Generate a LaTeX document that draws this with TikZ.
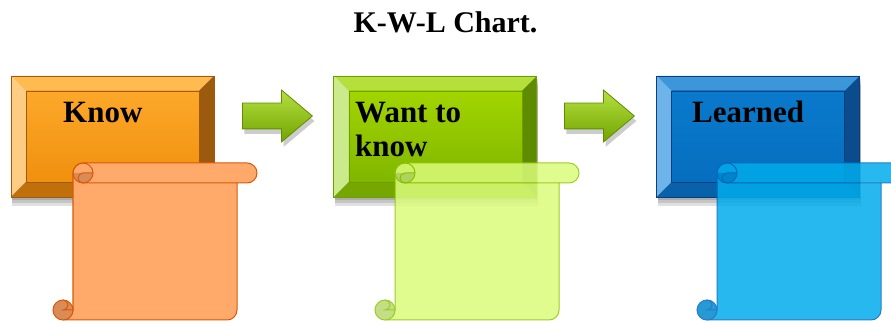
\documentclass[tikz,border=0pt]{standalone}
\usepackage{fontspec}
\setmainfont{Liberation Serif}
\usetikzlibrary{positioning,shapes.arrows,shadows}
\definecolor{KnowTop}{HTML}{FFBA50}
\definecolor{KnowLeft}{HTML}{FFCC84}
\definecolor{KnowRight}{HTML}{9C5A0E}
\definecolor{KnowBottom}{HTML}{C0700A}
\definecolor{KnowFaceTop}{HTML}{FDA82A}
\definecolor{KnowFaceBot}{HTML}{F0900E}
\definecolor{KnowRule}{HTML}{A05A10}
\definecolor{WantTop}{HTML}{B5E03C}
\definecolor{WantLeft}{HTML}{CBEA8C}
\definecolor{WantRight}{HTML}{5E8C00}
\definecolor{WantBottom}{HTML}{76A600}
\definecolor{WantFaceTop}{HTML}{A2D500}
\definecolor{WantFaceBot}{HTML}{80B600}
\definecolor{WantRule}{HTML}{6E9E00}
\definecolor{LearnTop}{HTML}{3C96DA}
\definecolor{LearnLeft}{HTML}{6CB4EA}
\definecolor{LearnRight}{HTML}{0A4C8C}
\definecolor{LearnBottom}{HTML}{0862AA}
\definecolor{LearnFaceTop}{HTML}{0A7ACC}
\definecolor{LearnFaceBot}{HTML}{066EBE}
\definecolor{LearnRule}{HTML}{0A3E7E}
\definecolor{ScrollA}{HTML}{FFAA6B}
\definecolor{ScrollALine}{HTML}{D85A08}
\definecolor{ScrollADark}{HTML}{D98C58}
\definecolor{ScrollB}{HTML}{DBFC7A}
\definecolor{ScrollBLine}{HTML}{8CC400}
\definecolor{ScrollBDark}{HTML}{B8D870}
\definecolor{ScrollC}{HTML}{00ACEB}
\definecolor{ScrollCLine}{HTML}{0066C0}
\definecolor{ScrollCDark}{HTML}{0088CC}
\definecolor{ArrowTop}{HTML}{B4E040}
\definecolor{ArrowBot}{HTML}{72A400}
\definecolor{ArrowRule}{HTML}{5E8E00}

\begin{document}
\begin{tikzpicture}[
    x=1pt, y=1pt,
    node distance=119pt,
    softshadow/.style={
        drop shadow={shadow xshift=1pt, shadow yshift=-3pt, opacity=.12, fill=black},
        drop shadow={shadow xshift=1pt, shadow yshift=-6pt, opacity=.12, fill=black},
        drop shadow={shadow xshift=1pt, shadow yshift=-9pt, opacity=.12, fill=black}
    },
    bevelbox/.style n args={7}{
        rectangle,
        minimum width=203pt,
        minimum height=121pt,
        inner sep=0pt,
        draw=#7,
        line width=0.8pt,
        softshadow,
        path picture={
            \coordinate (nw) at (path picture bounding box.north west);
            \coordinate (ne) at (path picture bounding box.north east);
            \coordinate (sw) at (path picture bounding box.south west);
            \coordinate (se) at (path picture bounding box.south east);
            \coordinate (inw) at ([shift={(15pt,-15pt)}]nw);
            \coordinate (ine) at ([shift={(-15pt,-15pt)}]ne);
            \coordinate (isw) at ([shift={(15pt,15pt)}]sw);
            \coordinate (ise) at ([shift={(-15pt,15pt)}]se);
            \fill[#1] (nw) -- (ne) -- (ine) -- (inw) -- cycle;
            \fill[#2] (nw) -- (inw) -- (isw) -- (sw) -- cycle;
            \fill[#3] (ne) -- (se) -- (ise) -- (ine) -- cycle;
            \fill[#4] (sw) -- (isw) -- (ise) -- (se) -- cycle;
            \shade[top color=#5, bottom color=#6] (inw) rectangle (ise);
            \draw[#7, line width=0.5pt] (inw) rectangle (ise);
        }
    },
    knowbox/.style={bevelbox={KnowTop}{KnowLeft}{KnowRight}{KnowBottom}{KnowFaceTop}{KnowFaceBot}{KnowRule}},
    wantbox/.style={bevelbox={WantTop}{WantLeft}{WantRight}{WantBottom}{WantFaceTop}{WantFaceBot}{WantRule}},
    learnbox/.style={bevelbox={LearnTop}{LearnLeft}{LearnRight}{LearnBottom}{LearnFaceTop}{LearnFaceBot}{LearnRule}},
    boxtext/.style={
        font=\fontsize{31}{34}\selectfont\bfseries,
        anchor=base west,
        inner sep=0pt,
        align=left
    },
    flowarrow/.style={
        single arrow,
        anchor=tail,
        minimum height=70pt,
        inner xsep=0pt,
        inner ysep=12.5pt,
        single arrow head extend=13pt,
        single arrow head indent=0pt,
        single arrow tip angle=80,
        top color=ArrowTop,
        bottom color=ArrowBot,
        draw=ArrowRule,
        line width=0.8pt,
        drop shadow={shadow xshift=2pt, shadow yshift=-5pt, opacity=.2, fill=black}
    }
]
\useasboundingbox (0,0) rectangle (891,323);

\node[font=\fontsize{30}{36}\selectfont\bfseries, anchor=base] (title) at (445.5,290) {K-W-L Chart.};

% the three headings
\node[knowbox] (know) at (112.5,186.5) {};
\node[wantbox, right=of know] (want) {};
\node[learnbox, right=of want] (learn) {};

\node[boxtext] (knowtxt) at (63,200) {Know};
\node[boxtext] (wanttxt) at (355,166) {Want to\\know};
\node[boxtext] (learntxt) at (692,200) {Learned};

% arrows between the headings
\node[flowarrow] (arrA) at (242,207) {};
\node[flowarrow] (arrB) at (564,207) {};

% scrolls
\foreach \sx/\sfill/\sline/\sdark/\sop in {53/ScrollA/ScrollALine/ScrollADark/1,
                                           375/ScrollB/ScrollBLine/ScrollBDark/.85,
                                           697/ScrollC/ScrollCLine/ScrollCDark/.85}{
    \begin{scope}[shift={(\sx,3)}, transparency group, opacity=\sop, line width=2.6pt, line join=round]
        \filldraw[fill=\sfill, draw=\sline] (10,0) arc[start angle=270, end angle=360, radius=10]
            -- (20,147) arc[start angle=180, end angle=90, radius=10]
            -- (194,157) arc[start angle=90, end angle=-90, radius=10]
            -- (184,137) -- (184,10) arc[start angle=0, end angle=-90, radius=10] -- cycle;
        \draw[\sline] (30,137) -- (184,137);
        % top curl
        \fill[\sdark] (20,147) arc[start angle=180, end angle=360, radius=10] -- cycle;
        \draw[\sline] (30,147) circle[radius=10];
        \draw[\sline] (40,147) -- (30,147) arc[start angle=90, end angle=270, radius=5];
        % bottom curl
        \filldraw[fill=\sdark, draw=\sline] (10,10) circle[radius=10];
        \draw[\sline] (10,20) arc[start angle=90, end angle=-90, radius=5] -- (20,10);
    \end{scope}
}

\end{tikzpicture}
\end{document}
